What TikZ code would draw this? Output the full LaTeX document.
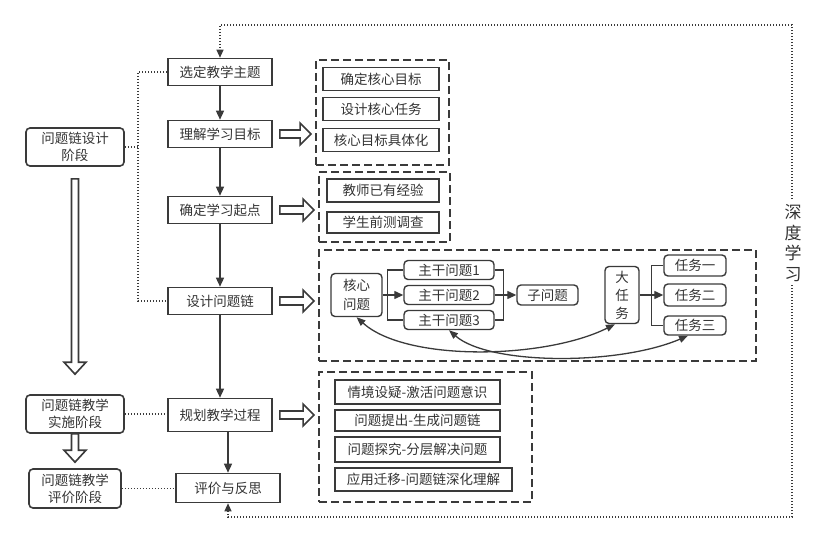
\documentclass[tikz,border=0pt]{standalone}
\usepackage{fontspec}
\setmainfont{Noto Sans CJK SC}
\usepackage{tikz}
\usetikzlibrary{arrows.meta,calc}

\definecolor{linegray}{HTML}{3A3A3A}
\definecolor{textgray}{HTML}{333333}

\newcommand\hollowright[2]{%
  \draw[hollow] let \p1=(#1), \p2=(#2) in
    (\x1+7pt,\y1+4pt) -- (\x2-15pt,\y1+4pt) -- (\x2-15pt,\y1+11pt) -- (\x2-4pt,\y1)
    -- (\x2-15pt,\y1-11pt) -- (\x2-15pt,\y1-4pt) -- (\x1+7pt,\y1-4pt) -- cycle;}
\newcommand\hollowdown[2]{%
  \draw[hollow] let \p1=(#1), \p2=(#2) in
    (\x1-3.5pt,\y1) -- (\x1-3.5pt,\y2+12pt) -- (\x1-11pt,\y2+12pt) -- (\x1,\y2)
    -- (\x1+11pt,\y2+12pt) -- (\x1+3.5pt,\y2+12pt) -- (\x1+3.5pt,\y1) -- cycle;}

\begin{document}
\begin{tikzpicture}[x=1pt, y=-1pt, font=\fontsize{13.5}{17}\selectfont, text=textgray,
	every node/.style = {inner sep=0pt, align=center},
	stepbox/.style = {draw=linegray, line width=1.6pt, minimum width=104pt, minimum height=27pt},
	stagebox/.style = {draw=linegray, line width=1.6pt, rounded corners=4pt, minimum width=98pt, minimum height=38pt},
	itembox/.style = {draw=linegray, line width=1.6pt, minimum height=23pt},
	chainbox/.style = {draw=linegray, line width=1.4pt, rounded corners=4pt, minimum height=20pt},
	groupbox/.style = {draw=linegray, line width=1.8pt, dash pattern=on 8pt off 4pt},
	flow/.style = {draw=linegray, line width=1.4pt, -{Triangle[length=9pt,width=8pt]}},
	link/.style = {draw=linegray, line width=1.3pt},
	dots/.style = {draw=linegray, line width=1.2pt, dash pattern=on 1.2pt off 1.8pt},
	hollow/.style = {draw=linegray, line width=1.6pt, fill=white, line join=miter}]
	\useasboundingbox (0,0) rectangle (827,543);

	% main steps
	\node[stepbox] (xuanding) at (220,72) {选定教学主题};
	\node[stepbox] (lijie) at (220,134) {理解学习目标};
	\node[stepbox] (qidian) at (220,210) {确定学习起点};
	\node[stepbox] (sheji) at (220,301) {设计问题链};
	\node[stepbox, minimum height=33pt] (guihua) at (220,415) {规划教学过程};
	\node[stepbox, minimum height=29pt] (pingjia) at (228,488) {评价与反思};

	% stages
	\node[stagebox] (stage1) at (75,147) {问题链设计\\阶段};
	\node[stagebox] (stage2) at (75,414) {问题链教学\\实施阶段};
	\node[stagebox, minimum width=92pt, minimum height=39pt] (stage3) at (75,488.5) {问题链教学\\评价阶段};

	% groups
	\node[groupbox, minimum width=133pt, minimum height=105pt] (grp1) at (382.5,112.5) {};
	\node[groupbox, minimum width=131pt, minimum height=70pt] (grp2) at (384.5,207) {};
	\node[groupbox, minimum width=437pt, minimum height=111pt] (grp3) at (537.5,305.5) {};
	\node[groupbox, minimum width=213pt, minimum height=130pt] (grp4) at (425.5,437) {};

	\node[itembox, minimum width=116pt] (mubiao) at (381,79) {确定核心目标};
	\node[itembox, minimum width=116pt] (renwu) at (381,109) {设计核心任务};
	\node[itembox, minimum width=116pt] (juti) at (381,140) {核心目标具体化};
	\node[itembox, minimum width=112pt] (jingyan) at (383,190.5) {教师已有经验};
	\node[itembox, minimum width=112pt, minimum height=21pt] (qiance) at (383,222.5) {学生前测调查};

	\node[chainbox, minimum width=51pt, minimum height=43pt, font=\fontsize{13.5}{19}\selectfont] (hexin) at (356.5,295) {核心\\问题};
	\node[chainbox, minimum width=90pt, minimum height=19pt] (zg1) at (449,270) {主干问题1};
	\node[chainbox, minimum width=90pt, minimum height=19pt] (zg2) at (449,295) {主干问题2};
	\node[chainbox, minimum width=90pt, minimum height=19pt] (zg3) at (449,320) {主干问题3};
	\node[chainbox, minimum width=61pt] (ziwen) at (547.5,295) {子问题};
	\node[chainbox, minimum width=34pt, minimum height=57pt, font=\fontsize{13.5}{18}\selectfont] (darenwu) at (622,295) {大\\任\\务};
	\node[chainbox, minimum width=62pt, minimum height=21pt] (rw1) at (695,265.5) {任务一};
	\node[chainbox, minimum width=62pt, minimum height=22pt] (rw2) at (695,295) {任务二};
	\node[chainbox, minimum width=62pt, minimum height=19pt] (rw3) at (695,325.5) {任务三};

	\node[itembox, minimum width=165pt, minimum height=24pt] (qingjing) at (417.5,392) {情境设疑-激活问题意识};
	\node[itembox, minimum width=165pt, minimum height=21pt] (tichu) at (417.5,420.5) {问题提出-生成问题链};
	\node[itembox, minimum width=165pt, minimum height=25pt] (tanjiu) at (417.5,449.5) {问题探究-分层解决问题};
	\node[itembox, minimum width=177pt, minimum height=23pt] (qianyi) at (423.5,479.5) {应用迁移-问题链深化理解};

	% main flow
	\draw[flow] (xuanding) -- (lijie);
	\draw[flow] (lijie) -- (qidian);
	\draw[flow] (qidian) -- (sheji);
	\draw[flow] (sheji) -- (guihua);
	\draw[flow] (guihua.south -| pingjia.north) -- (pingjia.north);

	% dotted links
	\coordinate (bus) at (138,147);
	\draw[dots] (xuanding.west) -| (bus) |- (sheji.west);
	\draw[dots] (stage1.east) -- (bus);
	\draw[dots] (stage2.east) -- (stage2.east -| guihua.west);
	\draw[dots] (stage3.east) -- (stage3.east -| pingjia.west);

	% loop
	\coordinate (loopb) at (792,517);
	\coordinate (loopt) at (792,25);
	\draw[dots, {Triangle[length=8pt,width=7pt]}-{Triangle[length=8pt,width=7pt]}]
		(pingjia.south) |- (loopb) -- (loopt) -| (xuanding.north);
	\node[fill=white, inner ysep=4pt, font=\fontsize{17}{20.5}\selectfont] (deep) at (793,243) {深\\度\\学\\习};

	% hollow arrows
	\hollowright{lijie.east}{grp1.west}
	\hollowright{qidian.east}{grp2.west}
	\hollowright{sheji.east}{grp3.west}
	\hollowright{guihua.east}{grp4.west}
	\hollowdown{$(stage1.south)+(0,12)$}{$(stage2.north)+(0,-20)$}
	\hollowdown{stage2.south}{$(stage2.south |- stage3.north)+(0,-6)$}

	% chain inside
	\draw[link] (zg1.west) -- ++(-16,0) |- (zg3.west);
	\draw[flow, line width=1.3pt] (hexin) -- (zg2);
	\draw[link] (zg1.east) -- ++(9,0) |- (zg3.east);
	\draw[flow, line width=1.3pt] (zg2) -- (ziwen);
	\draw[link] (rw1.west) -- ++(-12,0) |- (rw3.west);
	\draw[flow, line width=1.3pt] (darenwu) -- (rw2);
	\draw[link, {Triangle[length=9pt,width=7pt]}-{Triangle[length=9pt,width=7pt]}]
		(hexin.south) .. controls +(50,45) and +(-70,35) .. ($(darenwu.south)+(-7,0)$);
	\draw[link, {Triangle[length=9pt,width=7pt]}-{Triangle[length=9pt,width=7pt]}]
		(zg3.south) .. controls +(40,35) and +(-70,30) .. ($(rw3.south)+(-7,0)$);
\end{tikzpicture}
\end{document}
